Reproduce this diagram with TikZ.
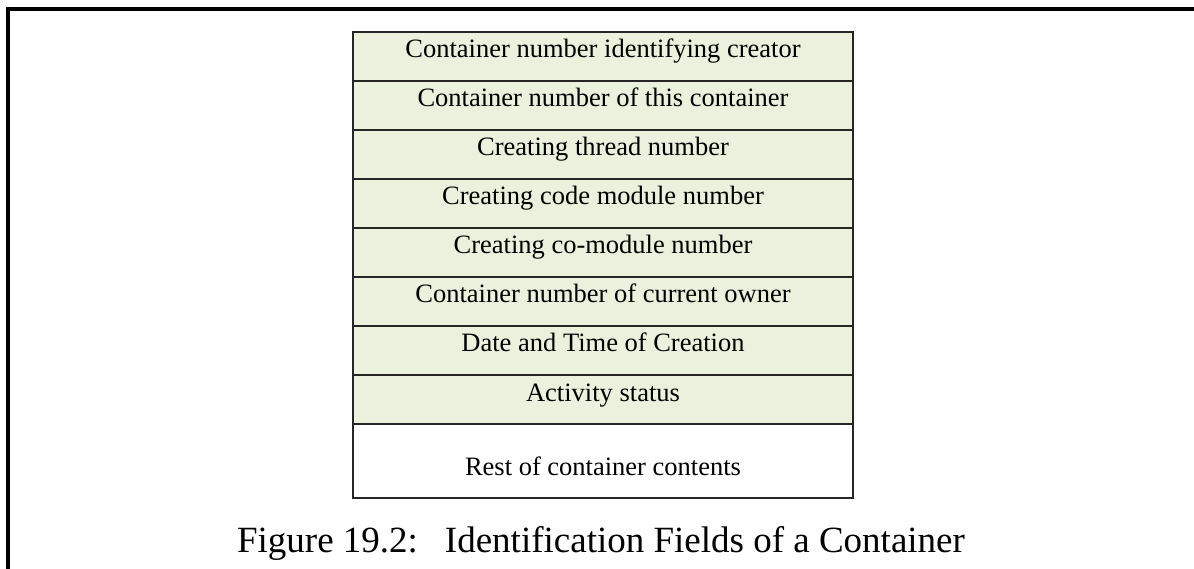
\documentclass[tikz,border=0pt]{standalone}
\usepackage{fontspec}
\setmainfont{Liberation Serif}
\definecolor{fieldfill}{HTML}{EAF1DD}
\tikzset{
  field/.style={draw=black!85, line width=1.8pt, fill=fieldfill,
    minimum width=500pt, inner xsep=0pt, inner ysep=0pt, outer sep=0pt,
    text height=26pt, text depth=23pt, anchor=north,
    font=\fontsize{26.5}{30}\selectfont},
  restfield/.style={field, fill=white, text height=51pt},
  captiontext/.style={anchor=base, inner sep=0pt, font=\fontsize{37}{42}\selectfont}
}
\begin{document}
\begin{tikzpicture}[x=1pt,y=-1pt]
  \useasboundingbox (0,0) rectangle (1194,569);
  % page frame (top and left edges)
  \draw[line width=4pt] (8,569) -- (8,9) -- (1194,9);
  % identification fields
  \node[field] (f1) at (603,32)  {Container number identifying creator};
  \node[field] (f2) at (603,81)  {Container number of this container};
  \node[field] (f3) at (603,130) {Creating thread number};
  \node[field] (f4) at (603,179) {Creating code module number};
  \node[field] (f5) at (603,228) {Creating co-module number};
  \node[field] (f6) at (603,277) {Container number of current owner};
  \node[field] (f7) at (603,326) {Date and Time of Creation};
  \node[field] (f8) at (603,375) {Activity status};
  \node[restfield] (rest) at (603,424) {Rest of container contents};
  % caption
  \node[captiontext] (caption) at (601,552)
    {Figure 19.2:\hspace{27pt}Identification Fields of a Container};
\end{tikzpicture}
\end{document}
